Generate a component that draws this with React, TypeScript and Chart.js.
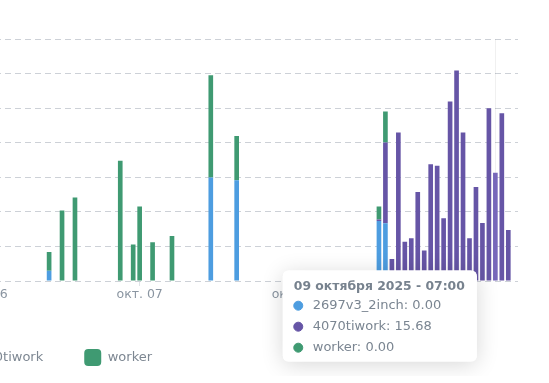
import React, { useEffect, useRef } from 'react';
import { Chart, registerables, Tooltip } from 'chart.js';

Chart.register(...registerables);

// ---- data ----
const hourLabels = [
  '2025-10-06 10:00', '2025-10-06 12:00', '2025-10-06 14:00', '2025-10-06 21:00', '2025-10-06 23:00',
  '2025-10-07 00:00', '2025-10-07 02:00', '2025-10-07 05:00', '2025-10-07 11:00', '2025-10-07 15:00',
  '2025-10-08 13:00', '2025-10-08 14:00', '2025-10-08 15:00', '2025-10-08 16:00', '2025-10-08 17:00',
  '2025-10-08 18:00', '2025-10-08 19:00', '2025-10-08 20:00', '2025-10-08 21:00', '2025-10-08 22:00',
  '2025-10-08 23:00', '2025-10-09 00:00', '2025-10-09 01:00', '2025-10-09 02:00', '2025-10-09 03:00',
  '2025-10-09 04:00', '2025-10-09 05:00', '2025-10-09 06:00', '2025-10-09 07:00', '2025-10-09 08:00',
  '2025-10-09 09:00',
];
const series2697 = [
  1.5, 0, 0, 0, 0,
  0, 0, 0, 15.0, 14.6,
  8.7, 8.35, 0, 0, 0,
  0, 0, 0, 0, 0,
  0, 0, 0, 0, 0,
  0, 0, 0, 0, 0,
  0,
];
const series4070 = [
  0, 0, 0, 0, 0,
  0, 0, 0, 0, 0,
  0.2, 11.7, 3.2, 21.5, 5.7,
  6.2, 12.9, 4.4, 16.9, 16.7,
  9.1, 26.0, 30.5, 21.5, 6.2,
  13.6, 8.4, 25.0, 15.68, 24.3,
  7.4,
];
const seriesWorker = [
  2.7, 10.2, 12.1, 17.4, 5.3,
  10.8, 5.6, 6.5, 14.8, 6.4,
  1.9, 4.5, 0, 0, 0,
  0, 0, 0, 0, 0,
  0, 0, 0, 0, 0,
  0, 0, 0, 0, 0,
  0,
];
const seriesNames = ['2697v3_2inch', '4070tiwork', 'worker'];
const seriesColors = ['#4d9de0', '#6655a6', '#3f9a72'];
const seriesHoverColors = ['#62aae6', '#7767ba', '#52a882'];
const dayTicks = ['2025-10-03 00:00', '2025-10-04 00:00', '2025-10-05 00:00', '2025-10-06 00:00', '2025-10-07 00:00', '2025-10-08 00:00', '2025-10-09 00:00'];
const rangeStart = '2025-10-02 09:30';
const rangeEnd = '2025-10-09 10:30';
const activeLabel = '2025-10-09 07:00';
const yMax = 35;
const yStep = 5;
const monthShort = ['янв.', 'февр.', 'мар.', 'апр.', 'мая', 'июн.', 'июл.', 'авг.', 'сент.', 'окт.', 'нояб.', 'дек.'];
const monthGen = ['января', 'февраля', 'марта', 'апреля', 'мая', 'июня', 'июля', 'августа', 'сентября', 'октября', 'ноября', 'декабря'];

// ---- helpers ----
const BASE = Date.UTC(2025, 9, 1, 0, 0);
function toHours(s: string): number {
  const [d, t] = s.split(' ');
  const [y, m, dd] = d.split('-').map(Number);
  const [hh, mi] = t.split(':').map(Number);
  return (Date.UTC(y, m - 1, dd, hh, mi) - BASE) / 3600000;
}
function fromHours(v: number): Date {
  return new Date(BASE + Math.round(v * 3600000));
}
const pad2 = (n: number) => String(n).padStart(2, '0');

const FONT = 'DejaVu Sans';
const TEXT_GREY = '#7d8792';
const CANVAS_W = 1184;
const CANVAS_H = 376;

(Tooltip as any).positioners.besideBar = function (items: any[]) {
  if (!items.length) return false;
  const el = items[0].element;
  const ca = this.chart.chartArea;
  return { x: el.x - 18.5, y: ca.bottom + 35, xAlign: 'right', yAlign: 'center' };
};

const shadowPlugin = {
  id: 'tooltipShadow',
  beforeTooltipDraw(chart: any, args: any) {
    const tt = args.tooltip;
    if (!tt || tt.opacity === 0) return;
    const ctx = chart.ctx;
    ctx.save();
    ctx.shadowColor = 'rgba(0,0,0,0.16)';
    ctx.shadowBlur = 22;
    ctx.shadowOffsetY = 3;
    ctx.fillStyle = '#ffffff';
    ctx.beginPath();
    (ctx as any).roundRect(tt.x, tt.y, tt.width, tt.height, 6);
    ctx.fill();
    ctx.restore();
  },
};

const crosshairPlugin = {
  id: 'crosshair',
  beforeDatasetsDraw(chart: any) {
    const act = chart.tooltip?.getActiveElements?.() || [];
    if (!act.length) return;
    const x = act[0].element.x;
    const { top, bottom } = chart.chartArea;
    const ctx = chart.ctx;
    ctx.save();
    ctx.strokeStyle = 'rgba(0,0,0,0.06)';
    ctx.lineWidth = 1;
    ctx.beginPath();
    ctx.moveTo(Math.round(x) + 0.5, top);
    ctx.lineTo(Math.round(x) + 0.5, bottom);
    ctx.stroke();
    ctx.restore();
  },
};

export default function App() {
  const ref = useRef<HTMLCanvasElement | null>(null);

  useEffect(() => {
    if (!ref.current) return;
    Chart.defaults.font.family = FONT;
    const xs = hourLabels.map(toHours);
    const seriesValues = [series2697, series4070, seriesWorker];
    const chart = new Chart(ref.current, {
      type: 'bar',
      data: {
        datasets: seriesNames.map((name, i) => ({
          label: name,
          data: xs.map((x, j) => ({ x, y: seriesValues[i][j] })),
          backgroundColor: seriesColors[i],
          hoverBackgroundColor: seriesHoverColors[i],
          borderColor: seriesColors[i],
          borderWidth: 0,
        })),
      },
      options: {
        responsive: false,
        animation: false,
        events: [],
        layout: { padding: { top: 39.3, left: 10, right: 41, bottom: 0 } },
        scales: {
          x: {
            type: 'linear',
            stacked: true,
            offset: false,
            min: toHours(rangeStart),
            max: toHours(rangeEnd),
            afterBuildTicks: (s: any) => {
              s.ticks = dayTicks.map((d) => ({ value: toHours(d) }));
            },
            afterFit: (s: any) => {
              s.height = 27;
            },
            grid: {
              display: true,
              offset: false,
              drawOnChartArea: false,
              drawTicks: true,
              tickLength: 5,
              tickColor: '#dfe3e7',
              tickWidth: 1,
            },
            border: { display: false },
            ticks: {
              autoSkip: false,
              maxRotation: 0,
              padding: 1.5,
              color: '#8a95a1',
              font: { family: FONT, size: 12.5 },
              callback: (v: any) => {
                const d = fromHours(Number(v));
                return `${monthShort[d.getUTCMonth()]} ${pad2(d.getUTCDate())}`;
              },
            },
          },
          y: {
            stacked: true,
            min: 0,
            max: yMax,
            afterFit: (s: any) => {
              s.width = 40;
            },
            grid: {
              color: '#cdd1d7',
              lineWidth: 1,
              drawTicks: false,
            },
            border: { display: false, dash: [6, 4] },
            ticks: {
              stepSize: yStep,
              color: '#8a95a1',
              font: { family: FONT, size: 12.5 },
            },
          },
        },
        plugins: {
          legend: {
            position: 'bottom',
            fullSize: false,
            labels: {
              boxWidth: 17,
              boxHeight: 17,
              useBorderRadius: true,
              borderRadius: 4,
              padding: 41,
              color: TEXT_GREY,
              font: { family: FONT, size: 13 },
            },
          },
          tooltip: {
            enabled: true,
            mode: 'index',
            position: 'besideBar' as any,
            xAlign: 'right',
            yAlign: 'center',
            caretSize: 0,
            caretPadding: 0,
            backgroundColor: '#ffffff',
            titleColor: '#77828e',
            bodyColor: '#7a8591',
            titleFont: { family: FONT, size: 12.4, weight: 'bold' },
            bodyFont: { family: FONT, size: 13 },
            titleMarginBottom: 3.5,
            bodySpacing: 5.4,
            padding: { top: 9, bottom: 6, left: 11, right: 12 },
            cornerRadius: 6,
            displayColors: true,
            usePointStyle: true,
            boxWidth: 9,
            boxHeight: 9,
            boxPadding: 8,
            callbacks: {
              title: (items: any[]) => {
                const d = fromHours(items[0].parsed.x);
                return `${pad2(d.getUTCDate())} ${monthGen[d.getUTCMonth()]} ${d.getUTCFullYear()} - ${pad2(d.getUTCHours())}:${pad2(d.getUTCMinutes())}`;
              },
              label: (item: any) => `${item.dataset.label}: ${Number(item.parsed.y).toFixed(2)}`,
              labelColor: (item: any) => ({
                borderColor: seriesColors[item.datasetIndex],
                backgroundColor: seriesColors[item.datasetIndex],
                borderWidth: 0,
              }),
              labelPointStyle: () => ({ pointStyle: 'circle', rotation: 0 }),
            },
          },
        },
      } as any,
      plugins: [shadowPlugin, crosshairPlugin],
    });

    const idx = hourLabels.indexOf(activeLabel);
    const act = [0, 1, 2].map((d) => ({ datasetIndex: d, index: idx }));
    chart.setActiveElements(act);
    chart.tooltip?.setActiveElements(act, { x: 0, y: 0 });
    chart.update();

    return () => chart.destroy();
  }, []);

  return (
    <div style={{ position: 'fixed', left: -625, top: 0, width: CANVAS_W, height: CANVAS_H }}>
      <canvas ref={ref} width={CANVAS_W} height={CANVAS_H} style={{ width: CANVAS_W, height: CANVAS_H, display: 'block' }} />
    </div>
  );
}
